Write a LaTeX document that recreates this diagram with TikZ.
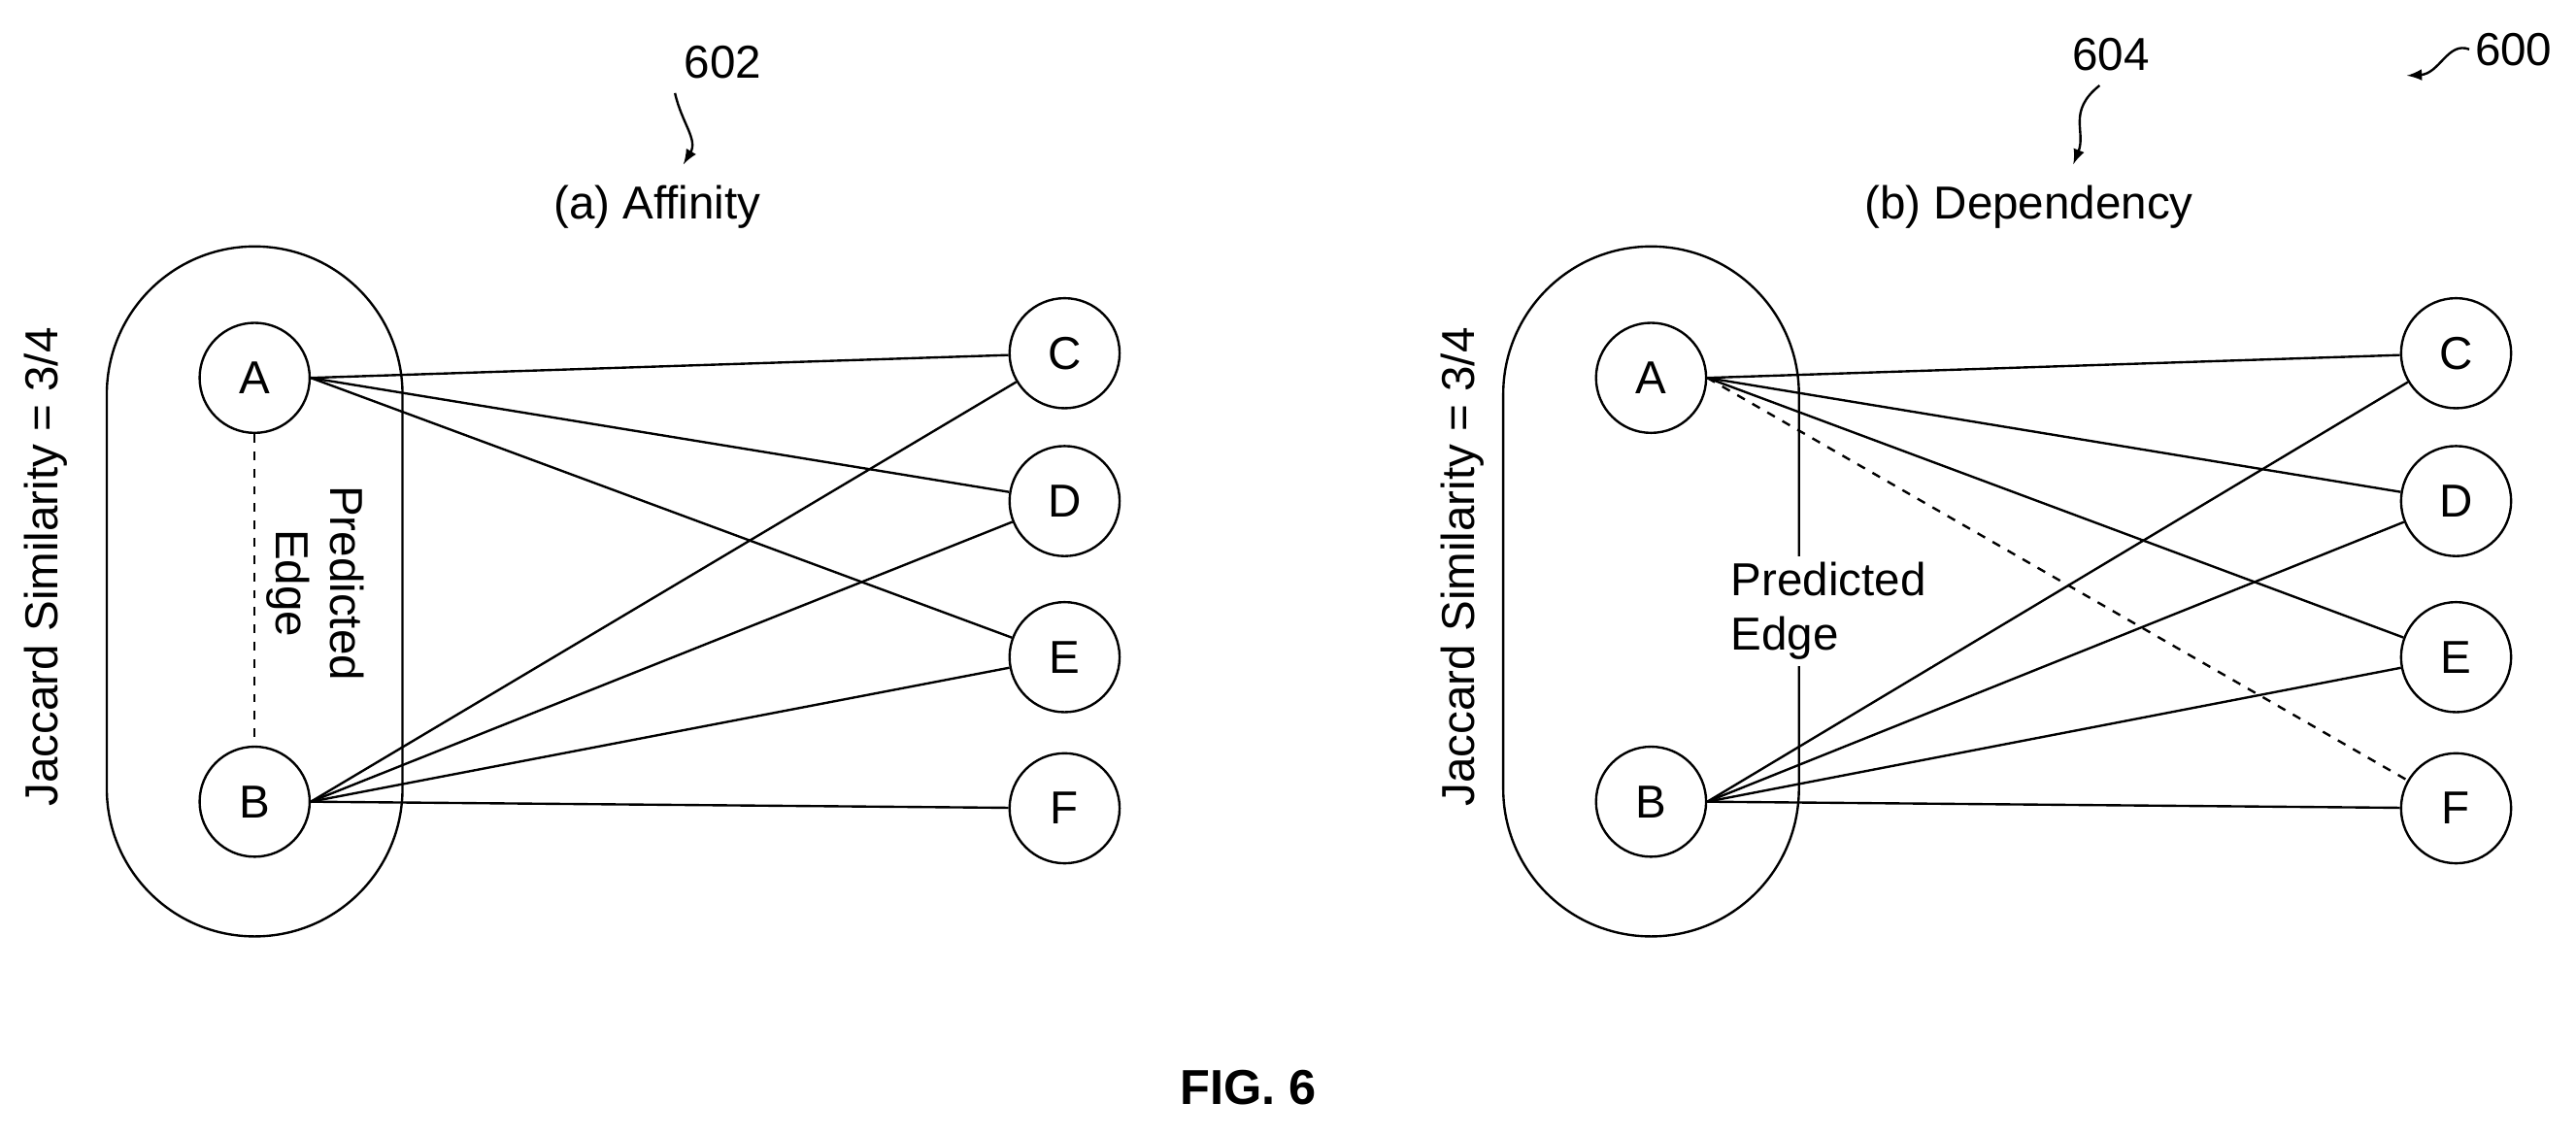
\documentclass[tikz,border=0pt]{standalone}
\usepackage{fontspec}
\setmainfont{Liberation Sans}
\begin{document}
\begin{tikzpicture}[x=0.02cm,y=-0.02cm,line width=0.8pt,
  nd/.style={circle,draw,minimum size=1.34cm,inner sep=0pt,font=\fontsize{16}{18}\selectfont},
  lbl/.style={font=\fontsize{16}{19}\selectfont,inner sep=0pt},
  grp/.style={draw,rounded corners=1.8cm}]
\useasboundingbox (0,0) rectangle (1568,691);
% left
\draw[grp] (65,150) rectangle (245,570);
\node[nd] (A1) at (155,230) {A};
\node[nd] (B1) at (155,488) {B};
\node[nd] (C1) at (648,215) {C};
\node[nd] (D1) at (648,305) {D};
\node[nd] (E1) at (648,400) {E};
\node[nd] (F1) at (648,492) {F};
\foreach \t in {C1,D1,E1} \draw (A1.east) -- (\t);
\foreach \t in {C1,D1,E1,F1} \draw (B1.east) -- (\t);
\draw[dashed] (A1) -- (B1);
\node[lbl,rotate=-90,align=center] (pe1) at (192,355) {Predicted\\Edge};
\node[lbl,rotate=90] (js1) at (28,345) {Jaccard Similarity = 3/4};
\node[lbl] (t1) at (400,126) {(a) Affinity};
\node[lbl] (n602) at (440,38) {602};
\draw[-latex] (n602.south west) ++(-5,8) coordinate (s1) .. controls (415,75) and (425,85) .. (416,100);
% right
\draw[grp] (915,150) rectangle (1095,570);
\node[nd] (A2) at (1005,230) {A};
\node[nd] (B2) at (1005,488) {B};
\node[nd] (C2) at (1495,215) {C};
\node[nd] (D2) at (1495,305) {D};
\node[nd] (E2) at (1495,400) {E};
\node[nd] (F2) at (1495,492) {F};
\foreach \t in {C2,D2,E2} \draw (A2.east) -- (\t);
\draw[dashed] (A2.east) -- (F2);
\foreach \t in {C2,D2,E2,F2} \draw (B2.east) -- (\t);
\node[lbl,align=left,fill=white,inner sep=2pt] (pe2) at (1113,372) {Predicted\\Edge};
\node[lbl,rotate=90] (js2) at (890,345) {Jaccard Similarity = 3/4};
\node[lbl] (t2) at (1235,126) {(b) Dependency};
\node[lbl] (n604) at (1285,33) {604};
\draw[-latex] (1278,52) .. controls (1258,68) and (1270,80) .. (1262,100);
\node[lbl] (n600) at (1530,30) {600};
\draw[-latex] (1503,30) .. controls (1490,25) and (1485,45) .. (1465,46);
\node[lbl,font=\fontsize{17}{20}\selectfont\bfseries] (fig) at (760,662) {FIG. 6};
\end{tikzpicture}
\end{document}
